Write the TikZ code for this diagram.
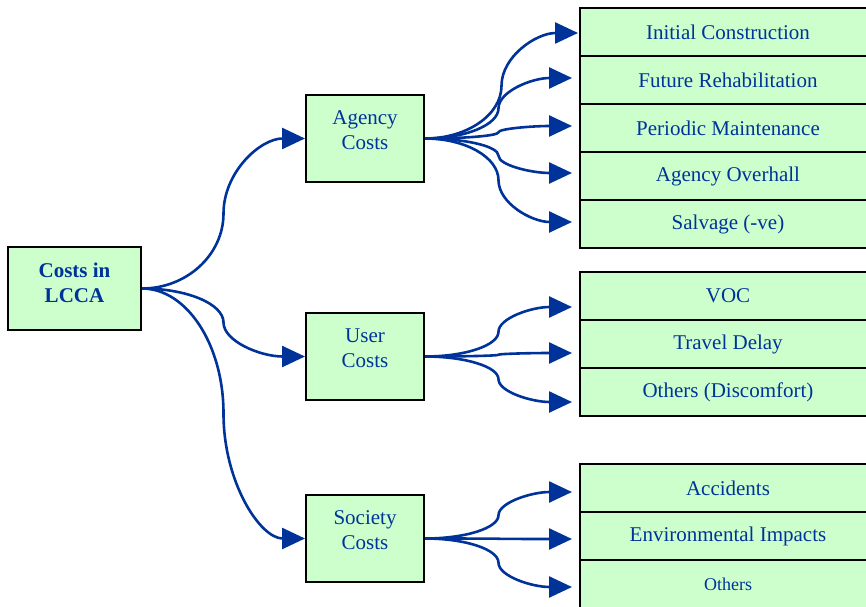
\documentclass[tikz,border=0pt]{standalone}
\usepackage{fontspec}
\setmainfont{Liberation Serif}
\usetikzlibrary{arrows.meta,calc}
\definecolor{txtblue}{RGB}{0,51,153}
\definecolor{boxgreen}{RGB}{204,255,204}
\newcommand\Sarrow[2]{%
  \draw[link] let \p1=(#1), \p2=(#2), \p3=($(\p1)!0.5!(\p2)$) in
    (\p1) .. controls ({\x1+0.55*(\x3-\x1)},\y1) and (\x3,{\y3-0.55*(\y3-\y1)}) .. (\p3)
          .. controls (\x3,{\y3+0.55*(\y2-\y3)}) and ({\x2-0.55*(\x2-\x3)},\y2) .. (\p2);}
\begin{document}
\begin{tikzpicture}[x=1pt,y=1pt,
  box/.style={draw=black,line width=2pt,fill=boxgreen,text=txtblue,align=center,inner sep=0pt,
              font=\fontsize{21}{25}\selectfont},
  midbox/.style={box,minimum width=118pt,minimum height=87pt},
  leaf/.style={box,minimum width=296pt,minimum height=48pt},
  lbl/.style={text=txtblue,align=center,inner sep=0pt,font=\fontsize{21}{25}\selectfont},
  link/.style={draw=txtblue,line width=2.6pt,-{Triangle[length=23pt,width=21pt]}}]
\useasboundingbox (0,0) rectangle (866,606);

% root
\node[box,minimum width=133pt,minimum height=83pt] (root) at (74.5,317.5) {};
\node[lbl,font=\fontsize{21}{25}\selectfont\bfseries] (rootT) at (74.5,323.5) {Costs in\\LCCA};

% middle boxes
\node[midbox] (agency) at (365,467.5) {};
\node[lbl] (agencyT) at (365,475.5) {Agency\\Costs};
\node[midbox] (user) at (365,249.5) {};
\node[lbl] (userT) at (365,257.5) {User\\Costs};
\node[midbox] (society) at (365,67.5) {};
\node[lbl] (societyT) at (365,75.5) {Society\\Costs};

% leaves
\node[leaf] (init) at (728,574) {Initial Construction};
\node[leaf] (fut) at (728,526) {Future Rehabilitation};
\node[leaf] (per) at (728,478) {Periodic Maintenance};
\node[leaf] (ovh) at (728,430) {Agency Overhall};
\node[leaf] (salv) at (728,382) {Salvage (-ve)};

\node[leaf] (voc) at (728,310) {VOC};
\node[leaf] (trav) at (728,262) {Travel Delay};
\node[leaf] (oth) at (728,214) {Others (Discomfort)};

\node[leaf] (acc) at (728,118) {Accidents};
\node[leaf] (env) at (728,70) {Environmental Impacts};
\node[leaf,minimum height=54pt,font=\fontsize{18}{22}\selectfont] (oth2) at (728,19) {\raisebox{5pt}{Others}};

% connectors from root
\Sarrow{root.east}{agency.west}
\Sarrow{root.east}{user.west}
\Sarrow{root.east}{society.west}

% agency children
\Sarrow{agency.east}{[xshift=-1pt,yshift=-1pt]init.west}
\Sarrow{agency.east}{[xshift=-7pt,yshift=2pt]fut.west}
\Sarrow{agency.east}{[xshift=-7pt,yshift=2pt]per.west}
\Sarrow{agency.east}{[xshift=-7pt,yshift=3pt]ovh.west}
\Sarrow{agency.east}{[xshift=-7pt,yshift=2pt]salv.west}

% user children
\Sarrow{user.east}{[xshift=-7pt,yshift=-11pt]voc.west}
\Sarrow{user.east}{[xshift=-7pt,yshift=-9pt]trav.west}
\Sarrow{user.east}{[xshift=-7pt,yshift=-10pt]oth.west}

% society children
\Sarrow{society.east}{[xshift=-7pt,yshift=-4pt]acc.west}
\Sarrow{society.east}{[xshift=-7pt,yshift=-3pt]env.west}
\Sarrow{society.east}{[xshift=-7pt,yshift=0pt]oth2.west}
\end{tikzpicture}
\end{document}
